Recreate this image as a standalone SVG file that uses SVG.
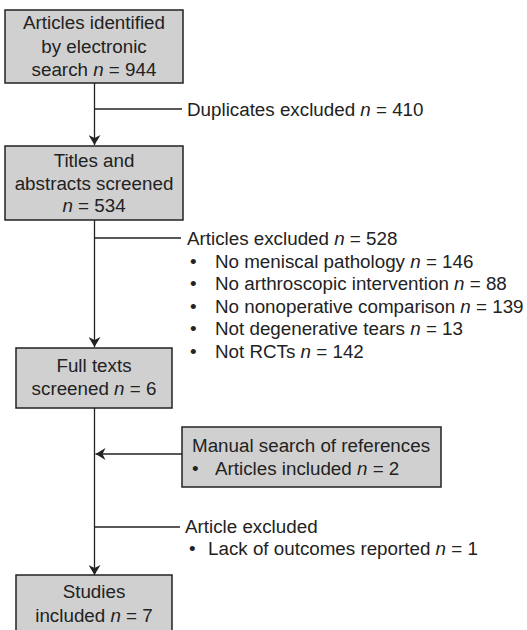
<svg xmlns="http://www.w3.org/2000/svg" width="527" height="630" viewBox="0 0 527 630">
<style>
  .box { fill: #d0d0d0; stroke: #222; stroke-width: 1.5; }
  .ln { fill: none; stroke: #222; stroke-width: 1.3; }
  text { font-family: "Liberation Sans", Arial, sans-serif; font-size: 18.8px; fill: #222; }
  .c { text-anchor: middle; }
  .i { font-style: italic; }
</style>
<defs>
  <marker id="ah" viewBox="0 0 10 12" refX="10" refY="6" markerWidth="10" markerHeight="12" markerUnits="userSpaceOnUse" orient="auto">
    <path d="M0,0 L10,6 L0,12 L3,6 Z" fill="#222"/>
  </marker>
</defs>
<rect width="527" height="630" fill="#fff"/>
<g id="connectors">
  <line class="ln" x1="94.5" y1="83" x2="94.5" y2="145" marker-end="url(#ah)"/>
  <line class="ln" x1="94.5" y1="109" x2="182" y2="109"/>
  <line class="ln" x1="94.5" y1="220" x2="94.5" y2="347" marker-end="url(#ah)"/>
  <line class="ln" x1="94.5" y1="238" x2="181" y2="238"/>
  <line class="ln" x1="94.5" y1="408" x2="94.5" y2="575" marker-end="url(#ah)"/>
  <line class="ln" x1="182" y1="454" x2="95.5" y2="454" marker-end="url(#ah)"/>
  <line class="ln" x1="94.5" y1="527" x2="180" y2="527"/>
</g>
<g id="n1">
  <rect class="box" x="5" y="10" width="178" height="73"/>
  <text class="c" x="94" y="29">Articles identified</text>
  <text class="c" x="94" y="52.5">by electronic</text>
  <text class="c" x="94" y="75.5">search <tspan class="i">n</tspan> = 944</text>
</g>
<g id="dup">
  <text x="187" y="116">Duplicates excluded <tspan class="i">n</tspan> = 410</text>
</g>
<g id="n2">
  <rect class="box" x="5" y="146" width="178" height="74"/>
  <text class="c" x="94" y="167">Titles and</text>
  <text class="c" x="94" y="189.5">abstracts screened</text>
  <text class="c" x="94" y="212"><tspan class="i">n</tspan> = 534</text>
</g>
<g id="excl1">
  <text x="187" y="245">Articles excluded <tspan class="i">n</tspan> = 528</text>
  <text x="190" y="267.5">•</text><text x="215" y="267.5">No meniscal pathology <tspan class="i">n</tspan> = 146</text>
  <text x="190" y="290">•</text><text x="215" y="290">No arthroscopic intervention <tspan class="i">n</tspan> = 88</text>
  <text x="190" y="312.5">•</text><text x="215" y="312.5">No nonoperative comparison <tspan class="i">n</tspan> = 139</text>
  <text x="190" y="335">•</text><text x="215" y="335">Not degenerative tears <tspan class="i">n</tspan> = 13</text>
  <text x="190" y="357.5">•</text><text x="215" y="357.5">Not RCTs <tspan class="i">n</tspan> = 142</text>
</g>
<g id="n3">
  <rect class="box" x="16" y="348" width="156" height="60"/>
  <text class="c" x="94" y="372">Full texts</text>
  <text class="c" x="94" y="395">screened <tspan class="i">n</tspan> = 6</text>
</g>
<g id="manual">
  <rect class="box" x="182" y="427" width="259" height="60"/>
  <text x="192" y="452">Manual search of references</text>
  <text x="192" y="475">•</text><text x="215" y="475">Articles included <tspan class="i">n</tspan> = 2</text>
</g>
<g id="excl2">
  <text x="185" y="533">Article excluded</text>
  <text x="189" y="555">•</text><text x="208" y="555">Lack of outcomes reported <tspan class="i">n</tspan> = 1</text>
</g>
<g id="n4">
  <rect class="box" x="16" y="575" width="156" height="60"/>
  <text class="c" x="94" y="598">Studies</text>
  <text class="c" x="94" y="622">included <tspan class="i">n</tspan> = 7</text>
</g>
</svg>
